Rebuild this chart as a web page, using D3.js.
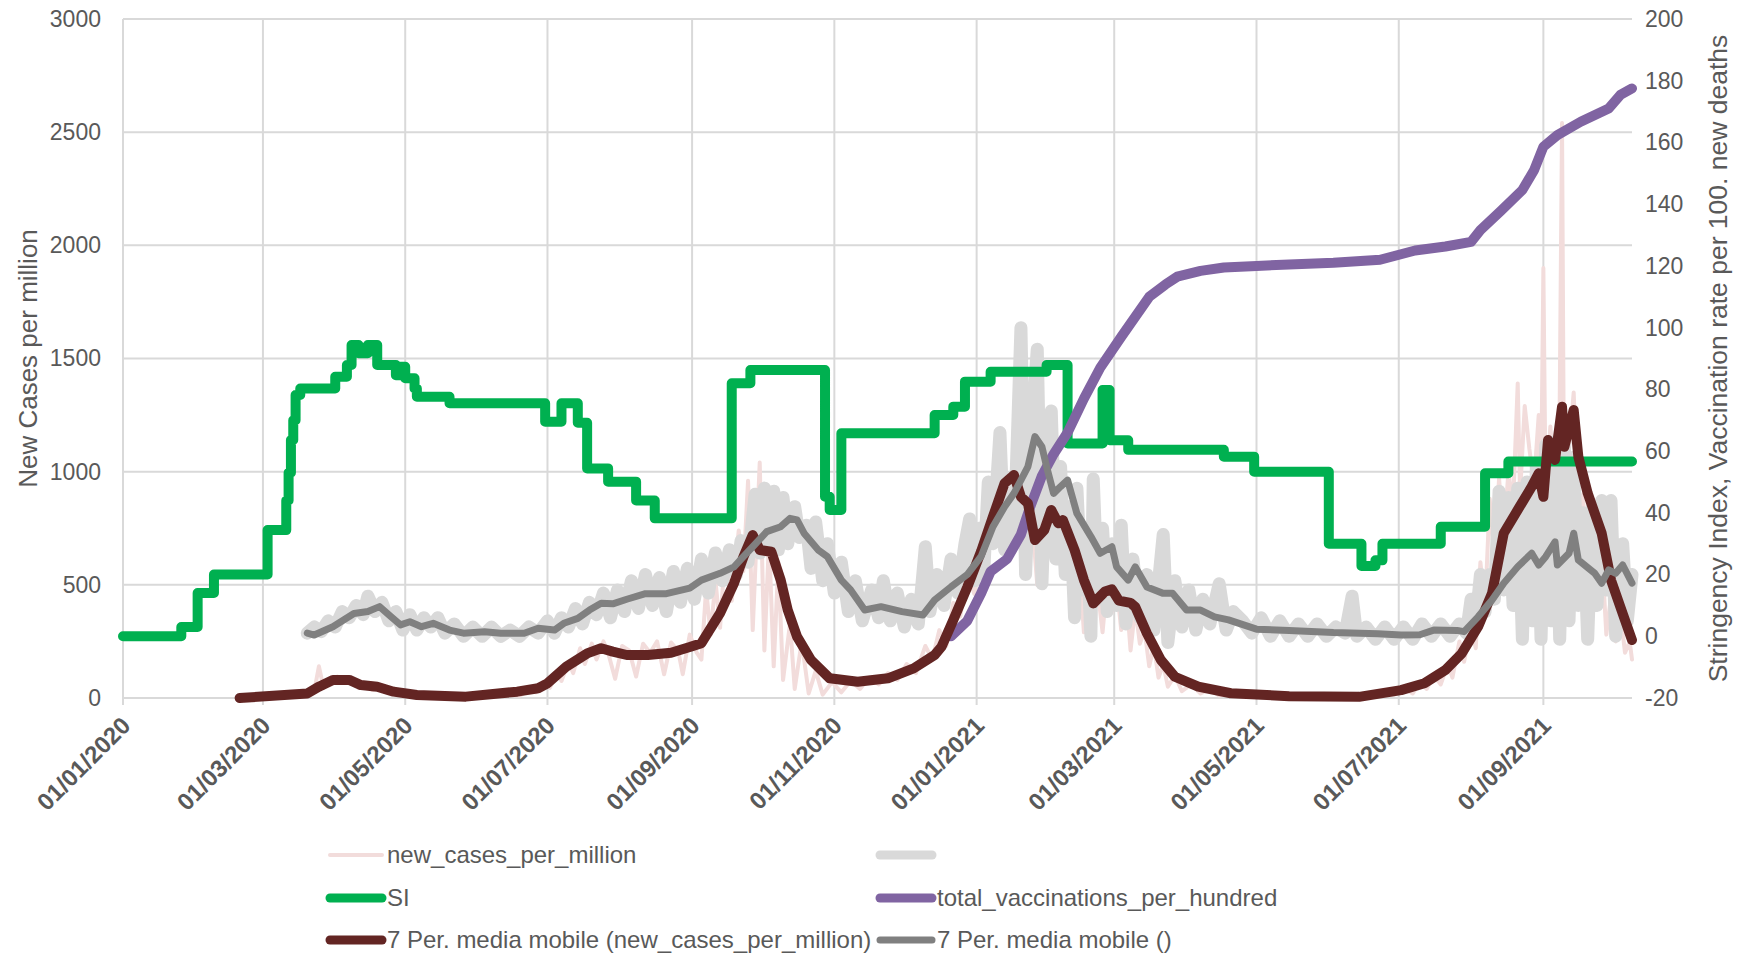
<!DOCTYPE html>
<html>
<head>
<meta charset="utf-8">
<script src="https://cdn.jsdelivr.net/npm/d3@7"></script>
<style>
  body { margin: 0; background: #fff; }
  text { font-family: "Liberation Sans", Arial, sans-serif; fill: #595959; }
</style>
</head>
<body>
<script>
// all x values are days counted from 01/01/2020

// new_cases_per_million (left axis)
var newCases = [[50,0],[60,2],[70,5],[78,15],[82,30],[84,140],[86,45],[89,75],[92,95],[95,70],[98,90],[101,45],[104,65],[107,35],[110,50],[114,22],[118,30],[122,12],[128,15],[135,5],[145,8],[155,3],[165,15],[170,10],[174,35],[177,25],[180,70],[183,45],[186,110],[188,75],[191,160],[193,110],[196,220],[198,150],[201,240],[203,170],[206,250],[208,200],[211,85],[214,230],[217,210],[220,95],[223,240],[226,200],[229,250],[232,105],[235,245],[238,210],[240,105],[243,280],[246,200],[248,170],[250,480],[252,280],[254,520],[256,310],[258,620],[261,430],[264,740],[266,560],[268,960],[270,300],[273,1040],[275,210],[277,700],[279,140],[281,600],[283,80],[286,330],[288,40],[291,250],[294,20],[297,120],[300,15],[304,70],[308,25],[312,75],[316,40],[320,90],[324,60],[328,110],[332,80],[336,150],[340,110],[344,230],[347,170],[350,300],[353,230],[356,420],[359,360],[362,560],[365,460],[368,700],[370,580],[373,850],[375,700],[378,1000],[380,850],[382,1020],[384,780],[386,900],[388,600],[390,760],[392,500],[394,800],[396,600],[398,900],[400,650],[402,850],[404,550],[406,700],[408,400],[410,600],[412,290],[414,520],[416,350],[418,470],[420,290],[422,520],[424,380],[426,500],[428,300],[430,480],[432,210],[434,400],[436,240],[438,300],[440,140],[442,230],[444,90],[446,150],[448,50],[451,100],[454,30],[458,60],[462,20],[466,40],[470,10],[476,20],[485,5],[500,10],[520,2],[535,8],[545,15],[550,40],[553,20],[556,70],[559,40],[562,100],[565,60],[568,150],[570,90],[573,250],[575,160],[578,320],[580,220],[582,600],[584,400],[586,880],[588,600],[590,970],[592,700],[594,1000],[596,850],[598,1390],[599,900],[601,1290],[603,1100],[605,950],[607,1250],[608,900],[609,1900],[610,850],[612,1200],[614,900],[616,1300],[617,2540],[618,600],[620,1100],[622,1350],[624,800],[626,900],[628,500],[630,700],[632,400],[634,650],[636,280],[638,450],[640,250],[642,380],[644,200],[646,250],[647,170]];

// 7 per. moving average of new_cases_per_million (left axis)
var newCasesMA = [[50,0],[79,20],[84,50],[90,80],[97,80],[102,57],[109,50],[116,28],[126,13],[147,6],[169,28],[178,43],[182,65],[190,138],[199,197],[205,220],[210,205],[216,190],[225,190],[235,200],[243,225],[248,242],[256,375],[262,508],[266,623],[270,720],[273,654],[278,646],[282,521],[285,389],[289,271],[295,168],[303,87],[315,72],[328,87],[339,131],[348,190],[351,227],[356,345],[362,490],[368,650],[373,801],[378,949],[382,985],[385,889],[388,860],[391,698],[395,742],[398,831],[401,772],[403,786],[408,654],[412,521],[416,418],[421,470],[424,480],[427,430],[432,420],[434,403],[439,286],[445,168],[451,94],[461,50],[475,21],[500,8],[530,5],[548,35],[558,65],[567,124],[574,197],[581,315],[587,463],[592,728],[598,831],[604,934],[607,993],[609,889],[611,1140],[614,1052],[617,1287],[618,1110],[622,1272],[624,1066],[628,905],[634,728],[638,521],[642,403],[647,256]];

// unnamed grey series (right axis)
var greySeries = [[79,1],[82,3],[85,1.5],[88,5],[91,3],[94,8],[97,6],[100,10],[103,7],[105,13],[108,8],[111,11],[114,5],[117,8],[120,2],[123,7],[126,2],[129,6],[132,3],[135,6],[138,1],[142,4],[146,0],[150,3],[154,0],[158,3],[162,0],[166,2],[170,0],[174,3],[178,1],[182,5],[185,1],[188,6],[191,3],[194,9],[197,4],[200,11],[203,7],[206,14],[209,6],[212,15],[215,8],[218,18],[221,9],[224,20],[227,10],[230,19],[233,8],[236,21],[239,11],[242,22],[245,12],[248,25],[251,14],[254,27],[257,18],[260,28],[263,20],[265,31],[268,24],[271,46],[273,27],[275,48],[277,30],[279,47],[281,28],[283,45],[285,30],[288,42],[290,32],[293,36],[295,22],[297,37],[300,18],[302,30],[305,14],[308,24],[311,8],[314,18],[317,5],[321,15],[324,6],[326,18],[329,5],[332,14],[335,3],[338,12],[341,4],[344,29],[346,8],[349,20],[352,10],[355,25],[358,14],[361,30],[363,38],[365,18],[367,35],[369,20],[371,50],[373,30],[376,66],[378,28],[380,45],[382,30],[385,100],[387,20],[389,60],[392,93],[394,17],[396,60],[398,73],[400,25],[402,55],[404,20],[406,42],[408,6],[409,48],[411,15],[413,35],[415,0],[416,51],[418,12],[420,35],[422,8],[424,30],[426,10],[428,36],[430,4],[433,25],[436,6],[439,20],[442,2],[446,33],[448,-2],[451,18],[454,3],[457,15],[460,2],[463,12],[466,4],[470,17],[473,2],[476,8],[480,5],[484,1],[488,6],[492,0],[496,5],[500,0],[504,4],[508,0],[512,4],[516,0],[520,3],[524,1],[527,13],[529,0],[533,3],[537,-1],[541,3],[545,-1],[549,3],[553,-1],[557,4],[561,0],[565,4],[569,0],[573,4],[576,1],[578,12],[580,4],[582,20],[584,8],[586,20],[588,12],[590,47],[592,15],[594,45],[596,10],[598,48],[600,-1],[602,50],[604,5],[606,55],[608,-1],[610,62],[612,5],[614,63],[616,-1],[618,62],[620,5],[622,58],[624,10],[626,40],[628,-1],[630,42],[632,10],[634,44],[636,15],[638,44],[640,0],[643,30],[645,5],[647,20]];

// 7 per. moving average of the grey series (right axis)
var greyMA = [[79,1],[82,0.4],[90,3.1],[99,7.4],[105,8],[110,9.6],[115,6.3],[119,3.7],[123,4.7],[128,3.1],[133,4.2],[140,2],[146,1],[155,1.5],[162,1],[172,1],[178,2.6],[185,2],[189,4.2],[195,5.8],[200,8.5],[205,10.7],[210,10.5],[216,12],[224,13.8],[233,13.8],[243,15.6],[248,18.2],[256,20.4],[262,22.5],[266,25.8],[270,29],[276,33.9],[282,35.5],[286,38.2],[289,37.7],[292,33.4],[298,28],[302,25.8],[308,18.2],[312,15],[318,8.5],[325,9.6],[334,8],[343,6.9],[348,11.75],[355,16],[362,20],[368,26],[373,35.5],[378,42],[382,46.3],[385,50.6],[388,55],[391,64.7],[394,61.4],[396,55],[399,46.3],[402,48.5],[405,50.6],[409,39.8],[415,32.3],[419,26.9],[424,29],[426,22.5],[431,18.2],[434,22.5],[439,16],[446,13.9],[450,13.9],[456,8.5],[462,8.5],[468,6.3],[474,5.3],[486,2.3],[500,1.9],[519,1.2],[538,0.85],[548,0.4],[556,0.5],[562,2],[572,1.9],[575,1.5],[581,6.3],[587,11.75],[592,17.2],[598,22.5],[604,26.9],[607,23.1],[610,25.8],[614,30.6],[615,23.1],[620,26.9],[622,33.4],[624,24.7],[631,20.4],[634,17.2],[637,21.5],[640,20.4],[643,23.1],[647,17.2]];

// SI (right axis), value holds from that day on
var siSteps = [[0,0],[25,3],[32,14],[39,20],[62,34.4],[70,44],[71,53],[72,63.6],[73,70],[74,78.2],[76,80.3],[91,84.1],[96,87.9],[98,94.4],[101,91.7],[105,94.4],[109,87.9],[117,84.6],[119,87.3],[121,83.6],[125,80.3],[126,77.6],[140,75.5],[181,69.5],[188,75.5],[195,69.2],[199,54.4],[208,50.1],[220,44],[228,38.2],[261,82],[269,86.3],[301,45.2],[303,40.9],[308,65.8],[348,71.7],[356,74.4],[361,82.5],[372,85.7],[396,87.9],[405,62.5],[420,79.8],[423,63.5],[431,60.4],[472,58.2],[485,53.3],[517,30],[531,22.8],[537,24.6],[540,30],[565,35.5],[584,52.8],[594,56.6],[647,56.6]];

// total_vaccinations_per_hundred (right axis)
var vaccinations = [[355,0],[362,5],[368,14],[372,21],[379,25],[385,33],[389,42],[394,52],[399,59],[405,66],[412,77],[419,87],[428,97],[440,110],[447,114],[452,116.5],[462,118.4],[472,119.5],[486,120],[519,121],[539,122],[554,125],[567,126.3],[578,127.8],[582,131.6],[591,138],[600,144.6],[605,151],[609,158.6],[615,162.4],[625,166.7],[637,171],[642,175.4],[647,177.5]];

var leftTicks = [0, 500, 1000, 1500, 2000, 2500, 3000];
var rightTicks = [-20, 0, 20, 40, 60, 80, 100, 120, 140, 160, 180, 200];

var width = 1742;
var height = 956;
var margin = ({top: 19, right: 110, bottom: 258, left: 123});

var start = new Date(2020, 0, 1);
var day = d => d3.timeDay.offset(start, d);

var x = d3.scaleTime()
    .domain([start, day(647)])
    .range([margin.left, width - margin.right]);

var yL = d3.scaleLinear()
    .domain([0, 3000])
    .range([height - margin.bottom, margin.top]);

var yR = d3.scaleLinear()
    .domain([-20, 200])
    .range([height - margin.bottom, margin.top]);

const svg = d3.select("body").append("svg")
    .attr("width", width)
    .attr("height", height);

var gridColor = "#d9d9d9";
var xTicks = x.ticks(d3.timeMonth.every(2));
var plain = d => String(d);   // no thousands comma, plain hyphen for minus

//horizontal gridlines
svg.append("g").selectAll("line").data(leftTicks).enter().append("line")
    .attr("x1", margin.left).attr("x2", width - margin.right)
    .attr("y1", d => yL(d)).attr("y2", d => yL(d))
    .attr("stroke", gridColor).attr("stroke-width", 2);

//vertical gridlines, running a little under the axis as ticks
svg.append("g").selectAll("line").data(xTicks).enter().append("line")
    .attr("x1", d => x(d)).attr("x2", d => x(d))
    .attr("y1", margin.top).attr("y2", yL(0) + 7)
    .attr("stroke", gridColor).attr("stroke-width", 2);

//left axis labels
svg.append("g")
    .attr("transform", `translate(${margin.left},0)`)
    .call(d3.axisLeft(yL).tickValues(leftTicks).tickFormat(plain).tickSize(0).tickPadding(22))
    .call(g => g.select(".domain").remove())
    .call(g => g.selectAll("text").attr("font-size", 23).attr("fill", "#595959")
        .attr("font-family", "Liberation Sans, Arial, sans-serif"));

//right axis labels
svg.append("g")
    .attr("transform", `translate(${width - margin.right},0)`)
    .call(d3.axisRight(yR).tickValues(rightTicks).tickFormat(plain).tickSize(0).tickPadding(13))
    .call(g => g.select(".domain").remove())
    .call(g => g.selectAll("text").attr("font-size", 23).attr("fill", "#595959")
        .attr("font-family", "Liberation Sans, Arial, sans-serif"));

//date labels
svg.append("g").selectAll("text").data(xTicks).enter().append("text")
    .attr("transform", d => `translate(${x(d) + 9},${yL(0) + 29}) rotate(-45)`)
    .attr("text-anchor", "end")
    .attr("font-size", 24)
    .attr("font-weight", "bold")
    .text(d3.timeFormat("%d/%m/%Y"));

//axis titles
svg.append("text")
    .attr("transform", `translate(37,${(yL(0) + margin.top) / 2}) rotate(-90)`)
    .attr("text-anchor", "middle")
    .attr("font-size", 26)
    .text("New Cases per million");

svg.append("text")
    .attr("transform", `translate(1727,${(yL(0) + margin.top) / 2}) rotate(-90)`)
    .attr("text-anchor", "middle")
    .attr("font-size", 26.5)
    .text("Stringency Index, Vaccination rate per 100. new deaths");

var lineL = d3.line().x(d => x(day(d[0]))).y(d => yL(d[1]));
var lineR = d3.line().x(d => x(day(d[0]))).y(d => yR(d[1]));
var stepR = d3.line().x(d => x(day(d[0]))).y(d => yR(d[1])).curve(d3.curveStepAfter);

var series = [
    {name: "new_cases_per_million", data: newCases, path: lineL, color: "#f2dcdb", w: 4},
    {name: "", data: greySeries, path: lineR, color: "#d9d9d9", w: 13},
    {name: "SI", data: siSteps, path: stepR, color: "#00b050", w: 10},
    {name: "total_vaccinations_per_hundred", data: vaccinations, path: lineR, color: "#8064a2", w: 10},
    {name: "7 Per. media mobile (new_cases_per_million)", data: newCasesMA, path: lineL, color: "#632523", w: 10},
    {name: "7 Per. media mobile ()", data: greyMA, path: lineR, color: "#808080", w: 7}
];

svg.append("g").selectAll("path").data(series).enter().append("path")
    .attr("d", s => s.path(s.data))
    .attr("fill", "none")
    .attr("stroke", s => s.color)
    .attr("stroke-width", s => s.w)
    .attr("stroke-linejoin", "round")
    .attr("stroke-linecap", "round");

//legend, two columns three rows
var legendX = [330, 880];
var legendY = [855, 898, 940];

var legend = svg.append("g").selectAll("g").data(series).enter().append("g")
    .attr("transform", (s, i) => `translate(${legendX[i % 2]},${legendY[Math.floor(i / 2)]})`);

legend.append("line")
    .attr("x1", 0).attr("x2", 52)
    .attr("stroke", s => s.color)
    .attr("stroke-width", s => Math.min(s.w, 9))
    .attr("stroke-linecap", "round");

legend.append("text")
    .attr("x", 57)
    .attr("dy", "0.35em")
    .attr("font-size", 24)
    .text(s => s.name);
</script>
</body>
</html>
